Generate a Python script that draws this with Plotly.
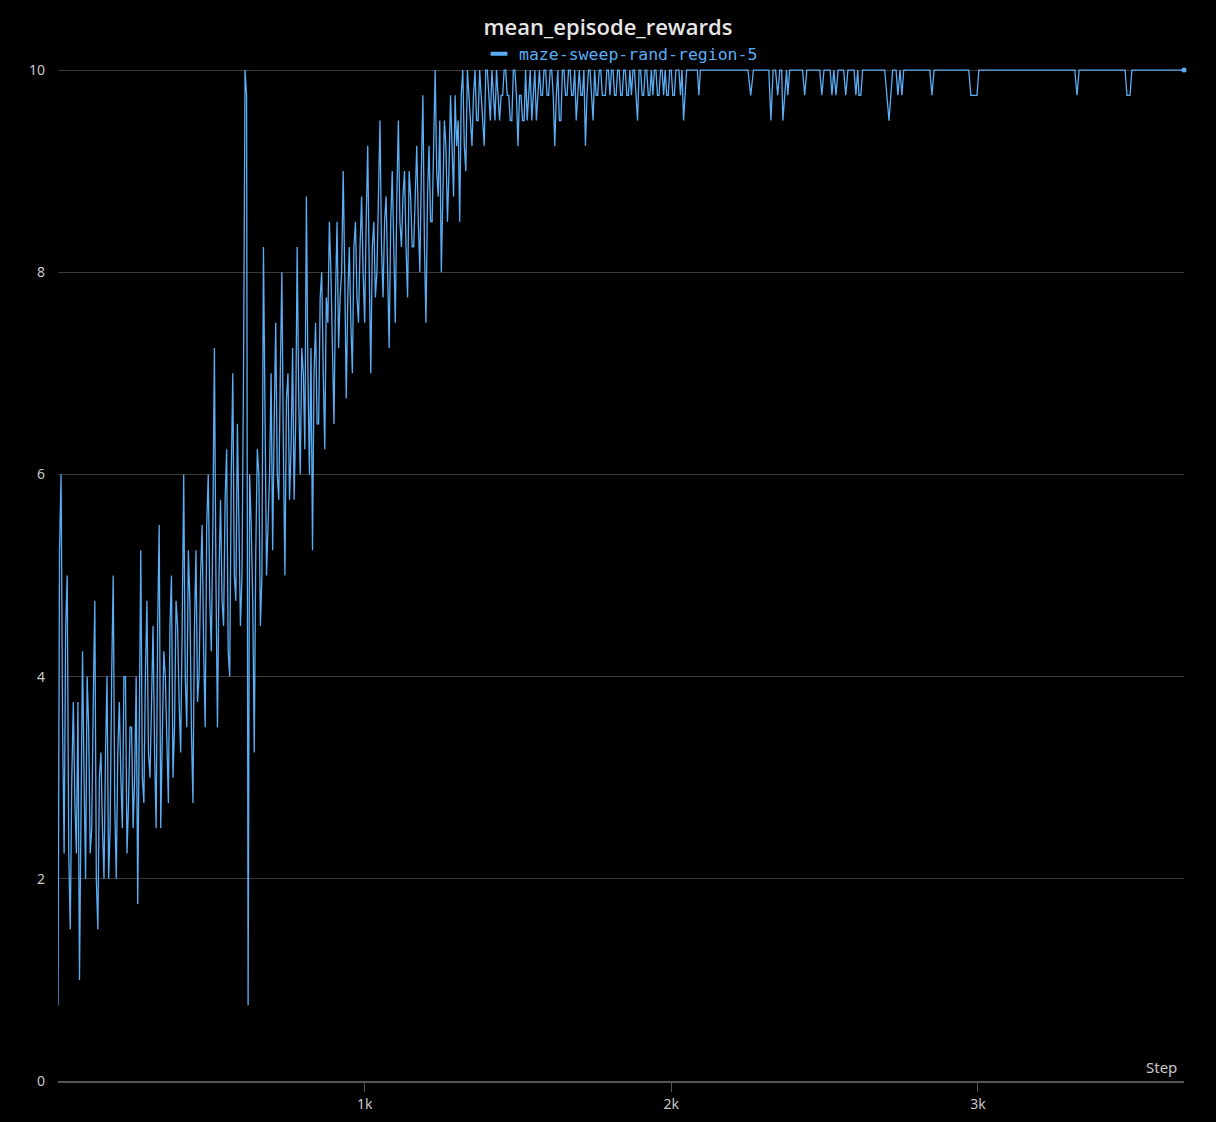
import plotly.graph_objects as go

# ---- data ----
series_name = "maze-sweep-rand-region-5"
chart_title = "mean_episode_rewards"

# dense part, values logged at steps 0, 10, 20 ... 2100
even_steps = list(range(0, 2110, 10))
even_values = [
    0.75, 6.0, 2.25, 5.0, 1.5, 3.75, 2.25, 1.0, 4.25, 2.0,
    3.5, 2.5, 4.75, 1.5, 3.25, 2.0, 4.0, 2.5, 5.0, 2.0,
    3.75, 2.5, 4.0, 2.75, 3.5, 3.0, 1.75, 5.25, 2.75, 4.75,
    3.0, 4.5, 2.5, 5.5, 3.25, 4.0, 2.75, 5.0, 3.5, 4.5,
    3.25, 6.0, 3.5, 4.75, 2.75, 5.25, 4.0, 5.5, 3.5, 6.0,
    4.25, 7.25, 3.5, 5.75, 4.5, 6.25, 4.0, 7.0, 4.75, 5.5,
    5.0, 10.0, 0.75, 5.5, 3.25, 6.25, 4.5, 8.25, 5.0, 6.0,
    5.25, 7.5, 5.75, 8.0, 5.0, 7.0, 6.25, 5.75, 8.25, 6.0,
    7.0, 8.75, 6.0, 5.25, 7.5, 6.5, 8.0, 6.25, 7.5, 8.0,
    6.5, 8.5, 7.75, 9.0, 6.75, 8.25, 7.0, 8.5, 7.5, 8.75,
    7.5, 9.25, 7.0, 8.5, 8.0, 9.5, 7.75, 8.75, 7.25, 9.0,
    7.5, 9.5, 8.25, 9.0, 7.75, 8.75, 8.25, 9.25, 8.0, 9.75,
    7.5, 9.25, 8.5, 10.0, 8.75, 8.0, 9.5, 8.5, 9.75, 8.75,
    9.25, 8.5, 10.0, 9.0, 9.75, 9.25, 10.0, 9.5, 9.75, 9.25,
    10.0, 9.5, 9.75, 10.0, 9.5, 9.75, 10.0, 9.75, 9.5, 10.0,
    9.25, 9.75, 9.5, 9.5, 10.0, 9.75, 9.5, 10.0, 9.75, 10.0,
    9.75, 10.0, 9.25, 10.0, 9.5, 10.0, 9.75, 10.0, 9.75, 9.5,
    10.0, 9.75, 9.25, 10.0, 9.75, 10.0, 9.75, 10.0, 9.75, 10.0,
    9.75, 10.0, 9.75, 10.0, 9.75, 10.0, 9.75, 9.75, 10.0, 9.5,
    10.0, 9.75, 10.0, 9.75, 9.75, 10.0, 9.75, 10.0, 10.0, 9.75,
    10.0, 9.75, 10.0, 9.75, 9.5, 10.0, 10.0, 10.0, 10.0, 9.75, 10.0,
]

# values logged at steps 5, 15, 25 ... 2095
odd_steps = list(range(5, 2100, 10))
odd_values = [
    5.25, 3.5, 4.5, 2.25, 3.0, 2.75, 3.75, 2.5, 3.0, 4.0,
    2.25, 3.75, 2.0, 3.0, 2.5, 3.25, 2.0, 4.0, 2.75, 3.25,
    3.0, 4.0, 2.25, 3.5, 2.5, 4.0, 3.5, 3.0, 4.0, 3.25,
    3.75, 3.25, 4.5, 2.5, 4.25, 3.25, 4.5, 3.0, 4.75, 3.75,
    4.5, 4.0, 5.25, 3.5, 4.5, 3.75, 5.0, 4.25, 5.5, 4.75,
    5.5, 5.0, 5.0, 4.75, 5.75, 4.25, 6.0, 5.0, 6.5, 4.5,
    7.0, 9.75, 6.0, 4.75, 5.25, 6.0, 5.0, 6.25, 5.5, 7.0,
    6.5, 6.0, 7.0, 6.25, 6.75, 5.75, 7.25, 6.5, 6.75, 7.25,
    6.25, 7.0, 7.25, 7.0, 6.5, 7.75, 7.0, 7.75, 8.5, 7.25,
    7.75, 7.25, 8.0, 8.0, 7.75, 7.5, 8.25, 7.75, 8.25, 8.0,
    8.5, 8.0, 8.25, 7.75, 8.75, 8.25, 8.5, 8.0, 8.5, 8.25,
    8.75, 8.5, 8.75, 8.25, 9.0, 8.25, 8.75, 8.5, 9.0, 8.25,
    8.75, 8.5, 9.25, 9.0, 9.5, 8.75, 9.25, 9.0, 9.25, 9.75,
    9.5, 9.75, 9.25, 10.0, 9.5, 9.75, 9.5, 10.0, 9.5, 10.0,
    9.75, 10.0, 9.5, 9.75, 9.75, 10.0, 9.75, 9.5, 10.0, 9.75,
    9.75, 9.5, 10.0, 9.75, 9.5, 10.0, 9.75, 9.75, 10.0, 9.75,
    10.0, 9.75, 9.75, 9.5, 10.0, 9.75, 10.0, 9.75, 10.0, 9.75,
    9.75, 10.0, 9.75, 10.0, 9.5, 9.75, 10.0, 9.75, 9.75, 10.0,
    10.0, 9.75, 10.0, 9.75, 10.0, 9.75, 10.0, 10.0, 9.75, 10.0,
    9.75, 10.0, 9.75, 10.0, 10.0, 9.75, 10.0, 9.75, 9.75, 10.0,
    9.75, 10.0, 10.0, 10.0, 9.75, 10.0, 10.0, 10.0, 10.0, 10.0,
]

# sparse part of the plateau: steps around the occasional dips
late_steps = [
    2120, 2250, 2259, 2268, 2318, 2325, 2332, 2340, 2347, 2354,
    2360, 2364, 2370, 2376, 2380, 2386, 2428, 2435, 2442, 2484,
    2491, 2498, 2518, 2524, 2530, 2537, 2544, 2562, 2569, 2576,
    2596, 2602, 2608, 2612, 2618, 2624, 2696, 2703, 2710, 2716,
    2722, 2733, 2739, 2746, 2752, 2758, 2843, 2850, 2857, 2970,
    2977, 2987, 2997, 3003, 3316, 3323, 3330, 3480, 3486, 3496,
    3502, 3672,
]
late_values = [
    10.0, 10.0, 9.75, 10.0, 10.0, 9.5, 10.0, 10.0, 9.75, 10.0,
    10.0, 9.5, 9.75, 10.0, 9.75, 10.0, 10.0, 9.75, 10.0, 10.0,
    9.75, 10.0, 10.0, 9.75, 10.0, 9.75, 10.0, 10.0, 9.75, 10.0,
    10.0, 9.75, 10.0, 9.75, 9.75, 10.0, 10.0, 9.75, 9.5, 9.75,
    10.0, 10.0, 9.75, 10.0, 9.75, 10.0, 10.0, 9.75, 10.0, 10.0,
    9.75, 9.75, 9.75, 10.0, 10.0, 9.75, 10.0, 10.0, 9.75, 9.75,
    10.0, 10.0,
]

y_ticks = [0, 2, 4, 6, 8, 10]
x_ticks = [1000, 2000, 3000]
x_tick_labels = ["1k", "2k", "3k"]
x_axis_label = "Step"

# merge all logged points in step order
pairs = sorted(zip(even_steps + odd_steps + late_steps,
                   even_values + odd_values + late_values))
steps = [p[0] for p in pairs]
values = [p[1] for p in pairs]

# ---- styling ----
LINE = "#5aaef5"
BG = "#000000"
GRID = "#3a3a3a"
TXT = "#c8c8c8"

fig = go.Figure()
fig.add_trace(go.Scatter(
    x=steps, y=values, mode="lines", name=series_name,
    line=dict(color=LINE, width=1.3), showlegend=False,
))
fig.add_trace(go.Scatter(
    x=[steps[-1]], y=[values[-1]], mode="markers",
    marker=dict(color=LINE, size=5), showlegend=False, cliponaxis=False,
    hoverinfo="skip",
))
# legend entry: short thick bar like the reference
fig.add_trace(go.Scatter(
    x=[None], y=[None], mode="markers", name=series_name,
    marker=dict(symbol="line-ew", size=12, line=dict(color=LINE, width=4)),
    showlegend=True,
))

fig.update_layout(
    width=1216, height=1122,
    paper_bgcolor=BG, plot_bgcolor=BG,
    margin=dict(l=58, r=32, t=67, b=41, autoexpand=False),
    font=dict(family="Noto Sans, Open Sans, sans-serif", color=TXT, size=14),
    title=dict(text=chart_title, x=0.5, xanchor="center", y=0.976, yanchor="middle",
               font=dict(size=22, color="#e6e6e6", family="Open Sans, Noto Sans, sans-serif", weight=600)),
    legend=dict(orientation="h", x=0.5, xanchor="center", y=1.0128, yanchor="middle",
                font=dict(family="DejaVu Sans Mono, Liberation Mono, monospace", size=16.5, color=LINE),
                bgcolor="rgba(0,0,0,0)", itemwidth=30, tracegroupgap=0),
    showlegend=True,
)

fig.update_yaxes(
    range=[0, 10.03], tickvals=y_ticks, showgrid=True, gridcolor=GRID, gridwidth=1,
    zeroline=False, showline=False, ticks="", tickfont=dict(size=14, color=TXT),
    ticklabelstandoff=12, fixedrange=True, automargin=False,
)
fig.update_xaxes(
    range=[0, 3672], tickvals=x_ticks, ticktext=x_tick_labels, showgrid=False,
    zeroline=False, showline=True, linecolor="#555555", linewidth=2,
    ticks="outside", ticklen=9, tickcolor="#555555", tickwidth=1,
    tickfont=dict(size=14, color=TXT), fixedrange=True, automargin=False,
)

fig.add_annotation(
    text=x_axis_label, xref="paper", yref="paper", x=1.0, y=0.0,
    xanchor="right", yanchor="bottom", yshift=2, xshift=-5, showarrow=False,
    font=dict(size=15, color=TXT),
)

fig.write_html(
    "out.html",
    config={"displayModeBar": False},
    post_script="document.body.style.margin='0';document.body.style.background='#000';",
)
